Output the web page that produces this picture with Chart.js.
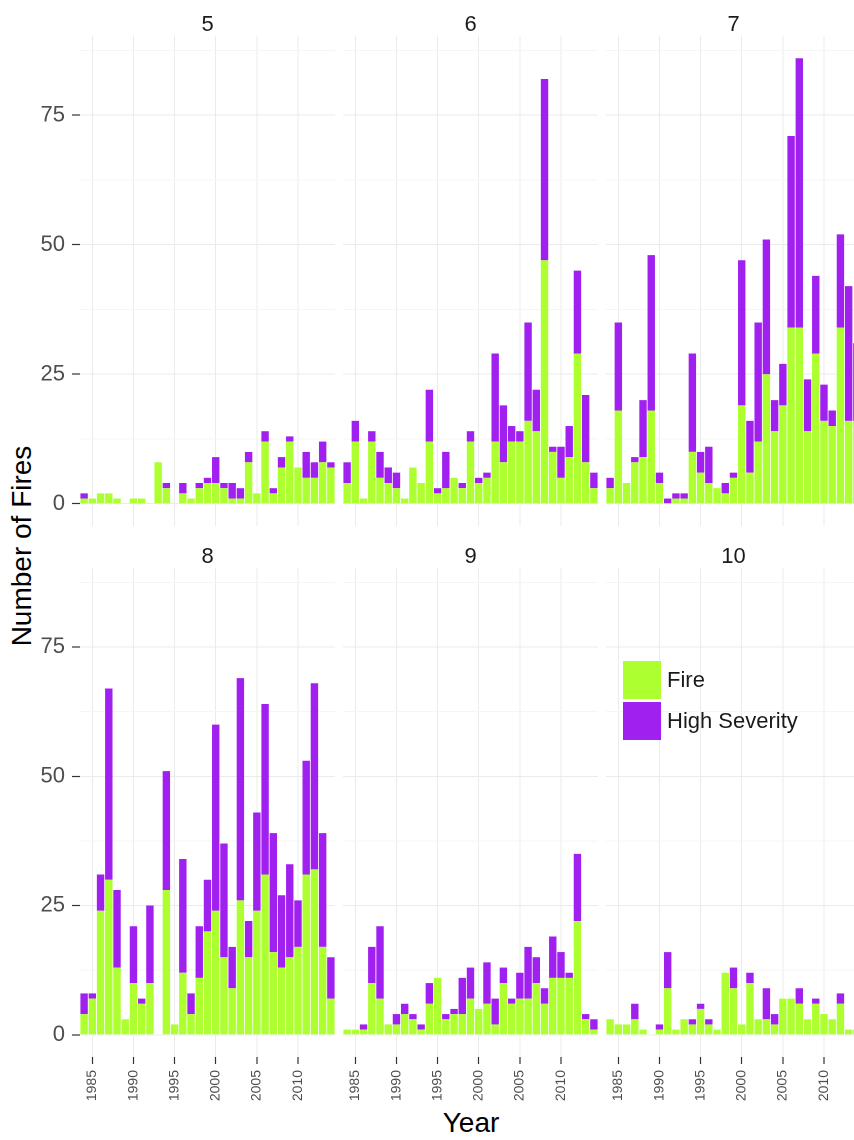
<!DOCTYPE html>
<html>
<head>
<meta charset="utf-8">
<script src="https://cdn.jsdelivr.net/npm/chart.js@4.4.1/dist/chart.umd.min.js"></script>
<style>
  html, body { margin: 0; padding: 0; background: #fff; overflow: hidden; }
  #page { position: relative; width: 854px; height: 1140px; overflow: hidden;
          font-family: "Liberation Sans", Arial, sans-serif; }
  #page canvas { position: absolute; }
  .strip { position: absolute; width: 255px; height: 26px; line-height: 26px;
           text-align: center; font-size: 22px; color: #1a1a1a; }
  .title { position: absolute; font-size: 28px; color: #000; text-align: center;
           height: 34px; line-height: 34px; }
  .key { position: absolute; width: 38px; height: 38px; }
  .keytext { position: absolute; font-size: 22px; color: #1a1a1a; height: 26px; line-height: 26px; }
</style>
</head>
<body>
<div id="page">
  <div class="title" style="left:-128px; top:529px; width:300px; transform:rotate(-90deg);">Number of Fires</div>
  <div class="title" style="left:371px; top:1106px; width:200px;">Year</div>
</div>
<script>
// categories
const years = [1984, 1985, 1986, 1987, 1988, 1989, 1990, 1991, 1992, 1993,
               1994, 1995, 1996, 1997, 1998, 1999, 2000, 2001, 2002, 2003,
               2004, 2005, 2006, 2007, 2008, 2009, 2010, 2011, 2012, 2013, 2014];
const months = ['5', '6', '7', '8', '9', '10'];
const seriesNames = ['Fire', 'High Severity'];

// fires per year, one array per month
const fire5  = [1, 1, 2, 2, 1, 0, 1, 1, 0, 8, 3, 0, 2, 1, 3, 4, 4, 3, 1, 1, 8, 2, 12, 2, 7, 12, 7, 5, 5, 8, 7];
const fire6  = [4, 12, 1, 12, 5, 4, 3, 1, 7, 4, 12, 2, 3, 5, 3, 12, 4, 5, 12, 8, 12, 12, 16, 14, 47, 10, 5, 9, 29, 8, 3];
const fire7  = [3, 18, 4, 8, 9, 18, 4, 0, 1, 1, 10, 6, 4, 3, 2, 5, 19, 6, 12, 25, 14, 19, 34, 34, 14, 29, 16, 15, 34, 16, 16];
const fire8  = [4, 7, 24, 30, 13, 3, 10, 6, 10, 0, 28, 2, 12, 4, 11, 20, 24, 15, 9, 26, 15, 24, 31, 16, 13, 15, 17, 31, 32, 17, 7];
const fire9  = [1, 1, 1, 10, 7, 2, 2, 4, 3, 1, 6, 11, 3, 4, 4, 7, 5, 6, 2, 10, 6, 7, 7, 10, 6, 11, 11, 11, 22, 3, 1];
const fire10 = [3, 2, 2, 3, 1, 0, 1, 9, 1, 3, 2, 5, 2, 1, 12, 9, 2, 10, 3, 3, 2, 7, 7, 6, 3, 6, 4, 3, 6, 1, 1];

// high severity (stacked on top of fire)
const sev5  = [1, 0, 0, 0, 0, 0, 0, 0, 0, 0, 1, 0, 2, 0, 1, 1, 5, 1, 3, 2, 2, 0, 2, 1, 2, 1, 0, 5, 3, 4, 1];
const sev6  = [4, 4, 0, 2, 5, 3, 3, 0, 0, 0, 10, 1, 7, 0, 1, 2, 1, 1, 17, 11, 3, 2, 19, 8, 35, 1, 6, 6, 16, 13, 3];
const sev7  = [2, 17, 0, 1, 11, 30, 2, 1, 1, 1, 19, 4, 7, 0, 2, 1, 28, 10, 23, 26, 6, 8, 37, 52, 10, 15, 7, 3, 18, 26, 15];
const sev8  = [4, 1, 7, 37, 15, 0, 11, 1, 15, 0, 23, 0, 22, 4, 10, 10, 36, 22, 8, 43, 7, 19, 33, 23, 14, 18, 9, 22, 36, 22, 8];
const sev9  = [0, 0, 1, 7, 14, 0, 2, 2, 1, 1, 4, 0, 1, 1, 7, 6, 0, 8, 5, 3, 1, 5, 10, 5, 3, 8, 5, 1, 13, 1, 2];
const sev10 = [0, 0, 0, 3, 0, 0, 1, 7, 0, 0, 1, 1, 1, 0, 0, 4, 0, 2, 0, 6, 2, 0, 0, 3, 0, 1, 0, 0, 2, 0, 0];

// y axis breaks (major every 25, minor halfway)
const yBreaks = [0, 12.5, 25, 37.5, 50, 62.5, 75, 87.5];

const fireData = [fire5, fire6, fire7, fire8, fire9, fire10];
const sevData = [sev5, sev6, sev7, sev8, sev9, sev10];

const fireColor = '#adff2f';
const sevColor = '#a020f0';
const gridMajor = '#ebebeb';
const gridMinor = '#f5f5f5';
const tickInk = '#333333';
const clear = 'rgba(0,0,0,0)';
const fontFamily = '"Liberation Sans", Arial, sans-serif';

// panel geometry
const colLeft = [80, 343, 606];
const rowTop = [36, 568];
const panelW = 255;
const panelH = 490;

const page = document.getElementById('page');

function noPad(s) {
  s.paddingTop = 0;
  s.paddingBottom = 0;
  s.paddingLeft = 0;
  s.paddingRight = 0;
}

function makePanel(i) {
  const col = i % 3, row = Math.floor(i / 3);
  const isLeft = col === 0;
  const isBottom = row === 1;

  const canvasLeft = isLeft ? 0 : colLeft[col];
  const w = isLeft ? colLeft[0] + panelW : panelW;
  const h = isBottom ? 1140 - rowTop[1] : panelH;

  const cv = document.createElement('canvas');
  cv.width = w;
  cv.height = h;
  cv.style.left = canvasLeft + 'px';
  cv.style.top = rowTop[row] + 'px';
  page.appendChild(cv);

  const strip = document.createElement('div');
  strip.className = 'strip';
  strip.textContent = months[i];
  strip.style.left = colLeft[col] + 'px';
  strip.style.top = (rowTop[row] - 25) + 'px';
  page.appendChild(strip);

  new Chart(cv, {
    type: 'bar',
    data: {
      labels: years.map(String),
      datasets: [{
        label: seriesNames[0],
        data: fireData[i],
        backgroundColor: fireColor,
        borderWidth: 0,
        barPercentage: 0.9,
        categoryPercentage: 1.0
      }, {
        label: seriesNames[1],
        data: sevData[i],
        backgroundColor: sevColor,
        borderWidth: 0,
        barPercentage: 0.9,
        categoryPercentage: 1.0
      }]
    },
    options: {
      responsive: false,
      animation: false,
      devicePixelRatio: 2,
      layout: { padding: 0, autoPadding: false },
      plugins: {
        legend: { display: false },
        tooltip: { enabled: false }
      },
      scales: {
        x: {
          stacked: true,
          offset: true,
          border: { display: false },
          grid: {
            offset: false,
            color: (c) => (years[c.index] % 5 === 0) ? gridMajor : clear,
            lineWidth: 1,
            drawTicks: isBottom,
            tickLength: 7,
            tickWidth: 1.2,
            tickColor: (c) => (years[c.index] % 5 === 0) ? tickInk : clear
          },
          ticks: {
            display: isBottom,
            autoSkip: false,
            minRotation: 90,
            maxRotation: 90,
            padding: 6,
            color: '#4d4d4d',
            font: { family: fontFamily, size: 14 },
            callback: (v, idx) => (years[idx] % 5 === 0) ? String(years[idx]) : ''
          },
          afterFit: (s) => { s.height = isBottom ? 83 : 0; noPad(s); }
        },
        y: {
          stacked: true,
          min: -4.3,
          max: 90.3,
          border: { display: false },
          afterBuildTicks: (s) => { s.ticks = yBreaks.map(v => ({ value: v })); },
          grid: {
            color: (c) => (c.tick && c.tick.value % 25 === 0) ? gridMajor : gridMinor,
            lineWidth: 1,
            drawTicks: isLeft,
            tickLength: 8,
            tickWidth: 1.2,
            tickColor: (c) => (c.tick && c.tick.value % 25 === 0) ? tickInk : clear
          },
          ticks: {
            display: isLeft,
            autoSkip: false,
            padding: 7,
            color: '#4d4d4d',
            font: { family: fontFamily, size: 22 },
            callback: (v) => (v % 25 === 0) ? String(v) : ''
          },
          afterFit: (s) => { s.width = isLeft ? colLeft[0] : 0; noPad(s); }
        }
      }
    }
  });
}

for (let i = 0; i < months.length; i++) makePanel(i);

// legend inside the last panel
const keyColors = [fireColor, sevColor];
const keyTops = [661, 702];
seriesNames.forEach((name, k) => {
  const sq = document.createElement('div');
  sq.className = 'key';
  sq.style.left = '623px';
  sq.style.top = keyTops[k] + 'px';
  sq.style.background = keyColors[k];
  page.appendChild(sq);
  const tx = document.createElement('div');
  tx.className = 'keytext';
  tx.textContent = name;
  tx.style.left = '667px';
  tx.style.top = (keyTops[k] + 6) + 'px';
  page.appendChild(tx);
});
</script>
</body>
</html>
